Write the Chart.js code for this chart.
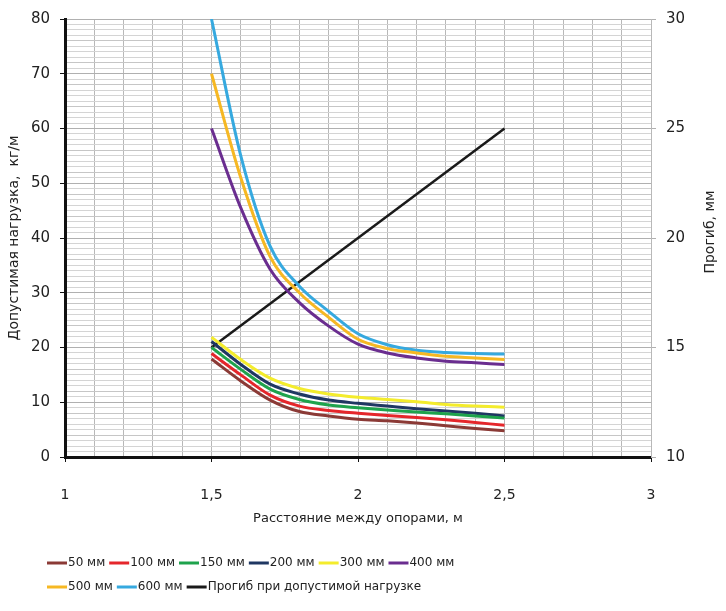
<!DOCTYPE html>
<html>
<head>
<meta charset="utf-8">
<script src="https://cdn.jsdelivr.net/npm/chart.js@4.4.1/dist/chart.umd.min.js"></script>
<style>
  body { margin: 0; background: #fff; }
  #wrap { width: 726px; height: 611px; position: relative; }
</style>
</head>
<body>
<div id="wrap"><canvas id="loadChart"></canvas></div>
<script>
// span between supports, m
var spans = [1.5, 1.6, 1.7, 1.8, 1.9, 2.0, 2.1, 2.2, 2.3, 2.4, 2.5];

// allowed load, kg/m, per tray width
var load50  = [17.9, 13.9, 10.4, 8.3, 7.5, 6.9, 6.6, 6.2, 5.7, 5.2, 4.8];
var load100 = [18.9, 15.0, 11.3, 9.3, 8.5, 8.0, 7.6, 7.2, 6.8, 6.3, 5.8];
var load150 = [20.0, 16.0, 12.4, 10.5, 9.5, 9.0, 8.6, 8.2, 7.9, 7.5, 7.1];
var load200 = [21.1, 16.9, 13.3, 11.5, 10.4, 9.8, 9.3, 8.8, 8.4, 8.0, 7.5];
var load300 = [21.9, 17.8, 14.4, 12.5, 11.5, 10.9, 10.5, 10.1, 9.6, 9.3, 9.1];
var load400 = [60, 45.5, 34.3, 28.2, 23.9, 20.6, 19.0, 18.1, 17.5, 17.2, 16.9];
var load500 = [70, 51, 36.6, 30.0, 25.5, 21.5, 19.8, 19.0, 18.4, 18.1, 17.8];
var load600 = [80, 55, 38.5, 31.2, 26.6, 22.5, 20.5, 19.5, 19.1, 18.9, 18.8];

// deflection at allowed load, mm (right axis)
var deflSpans = [1.5, 2.0, 2.5];
var deflection = [15, 20, 25];

function pts(xs, ys) {
  return xs.map(function(x, i) { return { x: x, y: ys[i] }; });
}

function curve(label, values, color) {
  return {
    label: label,
    data: pts(spans, values),
    borderColor: color,
    backgroundColor: color,
    borderWidth: 3,
    pointRadius: 0,
    cubicInterpolationMode: 'monotone',
    yAxisID: 'y'
  };
}

function isMult(v, step) {
  var q = v / step;
  return Math.abs(q - Math.round(q)) < 1e-6;
}

function comma(v) {
  return String(Math.round(v * 10) / 10).replace('.', ',');
}

var textColor = '#222';

// legend in two rows under the axis title, plus the right axis title read bottom-up
var bottomLegend = {
  id: 'bottomLegend',
  afterDraw: function(chart) {
    var ctx = chart.ctx;
    var rows = [[0, 1, 2, 3, 4, 5], [6, 7, 8]];
    ctx.save();
    ctx.font = '12px "DejaVu Sans"';
    ctx.textBaseline = 'middle';
    rows.forEach(function(row, r) {
      var x = 47, y = 563 + r * 24;
      row.forEach(function(i) {
        var ds = chart.data.datasets[i];
        ctx.strokeStyle = ds.borderColor;
        ctx.lineWidth = 3;
        ctx.beginPath();
        ctx.moveTo(x, y);
        ctx.lineTo(x + 20, y);
        ctx.stroke();
        ctx.fillStyle = textColor;
        ctx.fillText(ds.label, x + 21, y);
        x += 21 + ctx.measureText(ds.label).width + 4;
      });
    });
    var ya = chart.scales.y2;
    ctx.translate(710, (ya.top + ya.bottom) / 2 - 6);
    ctx.rotate(-Math.PI / 2);
    ctx.font = '14px "DejaVu Sans"';
    ctx.textAlign = 'center';
    ctx.fillText('Прогиб, мм', 0, 0);
    ctx.restore();
  }
};

var ctx = document.getElementById('loadChart').getContext('2d');
var loadChart = new Chart(ctx, {
  type: 'line',
  data: {
    datasets: [
      curve('50 мм', load50, '#8b3a36'),
      curve('100 мм', load100, '#e5262b'),
      curve('150 мм', load150, '#1ea34c'),
      curve('200 мм', load200, '#1f3762'),
      curve('300 мм', load300, '#f4ec2c'),
      curve('400 мм', load400, '#6a2d8f'),
      curve('500 мм', load500, '#f6b823'),
      curve('600 мм', load600, '#36a9df'),
      {
        label: 'Прогиб при допустимой нагрузке',
        data: pts(deflSpans, deflection),
        borderColor: '#1a1a1a',
        backgroundColor: '#1a1a1a',
        borderWidth: 2.5,
        pointRadius: 0,
        yAxisID: 'y2'
      }
    ]
  },
  options: {
    responsive: true,
    maintainAspectRatio: false,
    animation: false,
    layout: { padding: { top: 19, left: 0, right: 0, bottom: 81 } },
    plugins: {
      legend: { display: false },
      tooltip: { enabled: false }
    },
    scales: {
      x: {
        type: 'linear',
        min: 1,
        max: 3,
        afterFit: function(s) { s.height = 73; },
        border: { display: true, color: '#111', width: 3 },
        grid: {
          color: '#b8b8b8',
          tickLength: 5,
          tickColor: function(c) { return isMult(c.tick.value, 0.5) ? '#111' : 'rgba(0,0,0,0)'; }
        },
        ticks: {
          stepSize: 0.1,
          autoSkip: false,
          maxRotation: 0,
          padding: 25,
          color: textColor,
          font: { family: 'DejaVu Sans', size: 14 },
          callback: function(v) { return isMult(v, 0.5) ? comma(v) : ''; }
        },
        title: {
          display: true,
          text: 'Расстояние между опорами, м',
          color: textColor,
          font: { family: 'DejaVu Sans', size: 13 },
          padding: { top: 0, bottom: 4 }
        }
      },
      y: {
        position: 'left',
        min: 0,
        max: 80,
        afterFit: function(s) { s.width = 65; },
        border: { display: true, color: '#111', width: 3 },
        grid: {
          color: function(c) { return isMult(c.tick.value, 10) ? '#b0b0b0' : '#d4d4d4'; },
          tickLength: 5,
          tickColor: function(c) { return isMult(c.tick.value, 10) ? '#111' : 'rgba(0,0,0,0)'; }
        },
        ticks: {
          stepSize: 1,
          autoSkip: false,
          padding: 10,
          color: textColor,
          font: { family: 'DejaVu Sans', size: 15 },
          callback: function(v) { return isMult(v, 10) ? String(v) : ''; }
        },
        title: {
          display: true,
          text: 'Допустимая нагрузка,  кг/м',
          color: textColor,
          font: { family: 'DejaVu Sans', size: 14 },
          padding: { top: 6, bottom: 0 }
        }
      },
      y2: {
        position: 'right',
        min: 10,
        max: 30,
        afterFit: function(s) { s.width = 75; },
        border: { display: true, color: '#b8b8b8', width: 1 },
        grid: {
          color: function(c) { return isMult(c.tick.value, 5) ? '#b0b0b0' : '#c6c6c6'; },
          tickLength: 5,
          tickColor: function(c) { return isMult(c.tick.value, 5) ? '#b0b0b0' : 'rgba(0,0,0,0)'; }
        },
        ticks: {
          stepSize: 1,
          autoSkip: false,
          padding: 10,
          color: textColor,
          font: { family: 'DejaVu Sans', size: 15 },
          callback: function(v) { return isMult(v, 5) ? String(v) : ''; }
        }
      }
    }
  },
  plugins: [bottomLegend]
});
</script>
</body>
</html>
